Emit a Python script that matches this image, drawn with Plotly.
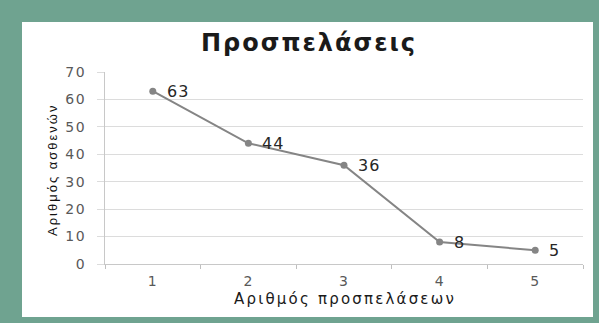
import plotly.graph_objects as go

categories = ["1", "2", "3", "4", "5"]
values = [63, 44, 36, 8, 5]
y_ticks = [0, 10, 20, 30, 40, 50, 60, 70]
title_text = "Προσπελάσεις"
x_title = "Αριθμός προσπελάσεων"
y_title = "Αριθμός ασθενών"

W, H = 599, 323
L, R, T, B = 105, 16, 72, 59
PW, PH = W - L - R, H - T - B


def px_x(x):
    return (x - L) / PW


def px_y(y):
    return (H - B - y) / PH


def spaced(s, sp):
    return '<span style="letter-spacing:%spx">%s</span>' % (sp, s)


fig = go.Figure()
fig.add_trace(go.Scatter(
    x=categories, y=values, mode="lines+markers",
    line=dict(color="#858585", width=2),
    marker=dict(color="#858585", size=7),
    cliponaxis=False,
))

annotations = [
    dict(x=i, y=v, xref="x", yref="y", text=spaced(str(v), 1),
         xanchor="left", yanchor="middle", xshift=12, yshift=0, showarrow=False,
         font=dict(family="DejaVu Sans", size=16, color="#262626"))
    for i, v in enumerate(values)
]
annotations += [
    dict(text="<b>" + spaced(title_text, 2) + "</b>", xref="paper", yref="paper",
         x=px_x(309), y=px_y(43), xanchor="center", yanchor="middle", showarrow=False,
         font=dict(family="DejaVu Sans", size=24, color="#1a1a1a")),
    dict(text=spaced(y_title, 2), xref="paper", yref="paper", textangle=-90,
         x=px_x(52), y=px_y(170), xanchor="center", yanchor="middle", showarrow=False,
         font=dict(family="Liberation Sans", size=13, color="#111111")),
    dict(text=spaced(x_title, 2.2), xref="paper", yref="paper",
         x=px_x(345), y=px_y(299), xanchor="center", yanchor="middle", showarrow=False,
         font=dict(family="DejaVu Sans", size=15, color="#1a1a1a")),
]

fig.update_layout(
    width=W, height=H,
    margin=dict(l=L, r=R, t=T, b=B),
    paper_bgcolor="#6fa390",
    plot_bgcolor="white",
    showlegend=False,
    shapes=[dict(type="rect", xref="paper", yref="paper",
                 x0=px_x(22), x1=px_x(593), y0=px_y(317), y1=px_y(22),
                 fillcolor="white", line=dict(width=0), layer="below")],
    annotations=annotations,
)

fig.update_xaxes(
    type="category", range=[-0.5, 4.5], tickson="boundaries", ticks="outside", ticklen=4,
    tickcolor="#bfbfbf", showline=True, linecolor="#c8c8c8", linewidth=1,
    showgrid=False, tickfont=dict(family="DejaVu Sans", size=14, color="#595959"),
    tickvals=categories, ticktext=[spaced(c, 1) for c in categories],
    ticklabelstandoff=4,
)
fig.update_yaxes(
    range=[0, 70], tickvals=y_ticks, ticktext=[spaced(str(t), 1.5) for t in y_ticks],
    ticks="outside", ticklen=7, tickcolor="#dcdcdc",
    showline=True, linecolor="#c8c8c8", linewidth=1,
    showgrid=True, gridcolor="#dcdcdc", gridwidth=1, zeroline=False,
    tickfont=dict(family="DejaVu Sans", size=14, color="#595959"),
    ticklabelstandoff=8,
)

fig.write_html("out.html")
